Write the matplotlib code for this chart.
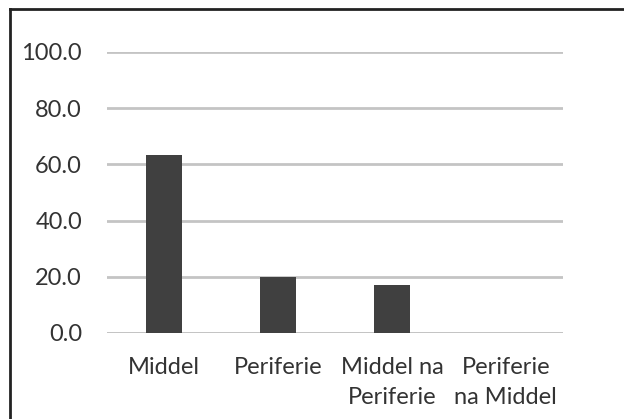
import matplotlib.pyplot as plt
from matplotlib.lines import Line2D

categories = ["Middel", "Periferie", "Middel na\nPeriferie", "Periferie\nna Middel"]
values = [63.3, 20.0, 17.1, 0.0]
yticks = [0, 20, 40, 60, 80, 100]

plt.rcParams['font.family'] = ['Lato', 'DejaVu Sans']
text_col = '#333333'
fs = 17

fig = plt.figure(figsize=(6.24, 4.19), dpi=100)
ax = fig.add_axes([0.1715, 0.2053, 0.7305, 0.6706])

x = range(len(categories))
ax.bar(x, values, width=0.32, color='#404040', zorder=3)

ax.set_xlim(-0.5, len(categories) - 0.5)
ax.set_ylim(0, 100)
ax.set_yticks(yticks)
ax.set_yticklabels([f"{v:.1f}" for v in yticks], fontsize=fs, color=text_col)
ax.set_xticks(list(x))
ax.set_xticklabels(categories, fontsize=fs, color=text_col, linespacing=1.55)

ax.grid(axis='y', color='#c4c4c4', linewidth=2, zorder=0)
ax.tick_params(axis='both', length=0)
ax.tick_params(axis='y', pad=18)
ax.tick_params(axis='x', pad=17)
for s in ax.spines.values():
    s.set_visible(False)
ax.axhline(0, color='#c4c4c4', linewidth=2, zorder=2)

# outer frame: only top and left edges are visible
fig.add_artist(Line2D([9.5 / 624, 1], [1 - 9.5 / 419, 1 - 9.5 / 419], color='#222222', linewidth=2))
fig.add_artist(Line2D([9.5 / 624, 9.5 / 624], [0, 1 - 9.5 / 419], color='#222222', linewidth=2))

fig.savefig("out.png", dpi=100)
